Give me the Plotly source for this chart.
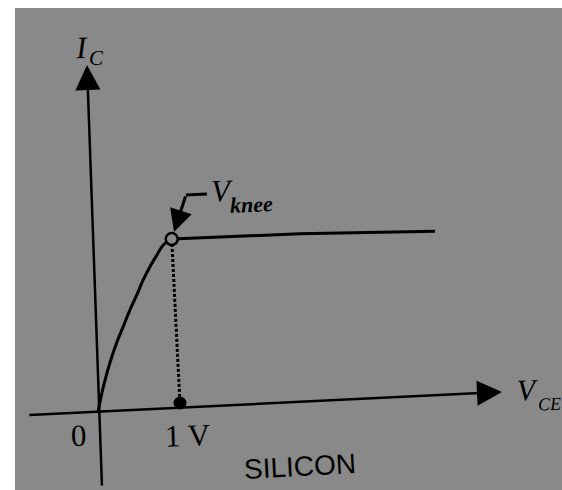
import plotly.graph_objects as go

# ---- data (V_CE in volts, I_C in mA) ----
curve_v = [0, 0.065, 0.146, 0.228, 0.309, 0.390, 0.472, 0.553, 0.634, 0.716, 0.796, 0.899]
curve_i = [0, 0.29, 0.57, 0.80, 0.99, 1.18, 1.35, 1.53, 1.68, 1.81, 1.93, 2.00]
sat_v = [0.899, 2.46, 4.11]
sat_i = [2.00, 2.06, 2.09]
knee_v = [0.899]
knee_i = [2.00]
drop_v = [0.899, 1.0]
drop_i = [2.00, 0.104]
one_volt_v = [1.0]
one_volt_i = [0.104]
xaxis_v = [-0.854, 4.927]   # tail, tip
xaxis_i = [-0.035, 0.231]
yaxis_v = [0.049, -0.134]   # tail, tip
yaxis_i = [-0.867, 4.012]
knee_arrow_v = [1.329, 1.073, 0.927]  # horizontal start, bend, tip
knee_arrow_i = [2.520, 2.509, 2.080]

GRAY = "#898989"
SERIF = "Liberation Serif, Times New Roman, serif"
SANS = "Liberation Sans, Arial, sans-serif"


def P(px, py):
    """pixel position -> data units (for label placement only)"""
    return (px - 98) / 82.0, (412 - py) / 86.5


fig = go.Figure()

fig.add_trace(go.Scatter(x=curve_v, y=curve_i, mode="lines",
                         line=dict(color="black", width=3, shape="spline"),
                         hoverinfo="skip", showlegend=False))
fig.add_trace(go.Scatter(x=sat_v, y=sat_i, mode="lines",
                         line=dict(color="black", width=3),
                         hoverinfo="skip", showlegend=False))
fig.add_trace(go.Scatter(x=drop_v, y=drop_i, mode="lines",
                         line=dict(color="black", width=3, dash="3px,2px"),
                         hoverinfo="skip", showlegend=False))
fig.add_trace(go.Scatter(x=knee_arrow_v[:2], y=knee_arrow_i[:2], mode="lines",
                         line=dict(color="black", width=3),
                         hoverinfo="skip", showlegend=False))
fig.add_trace(go.Scatter(x=knee_v, y=knee_i, mode="markers",
                         marker=dict(size=12, color=GRAY, line=dict(color="black", width=2.5)),
                         hoverinfo="skip", showlegend=False))
fig.add_trace(go.Scatter(x=one_volt_v, y=one_volt_i, mode="markers",
                         marker=dict(size=13, color="black"),
                         hoverinfo="skip", showlegend=False))

for vx, iy in ((xaxis_v, xaxis_i), (yaxis_v, yaxis_i)):
    fig.add_annotation(x=vx[1], y=iy[1], ax=vx[0], ay=iy[0],
                       xref="x", yref="y", axref="x", ayref="y",
                       showarrow=True, arrowhead=2, arrowsize=2, arrowwidth=2.5,
                       arrowcolor="black", text="")
fig.add_annotation(x=knee_arrow_v[2], y=knee_arrow_i[2], ax=knee_arrow_v[1], ay=knee_arrow_i[1],
                   xref="x", yref="y", axref="x", ayref="y",
                   showarrow=True, arrowhead=2, arrowsize=1.5, arrowwidth=3,
                   arrowcolor="black", text="")


def label(text, px, py, size, family=SERIF, xanchor="center", angle=-2):
    x, y = P(px, py)
    fig.add_annotation(x=x, y=y, xref="x", yref="y", text=text, showarrow=False,
                       xanchor=xanchor, yanchor="middle", textangle=angle,
                       font=dict(family=family, size=size, color="black"))


label("<i>I</i>", 82, 47, 31)
label("<i>C</i>", 97, 58, 21)
label("<i>V</i>", 222, 190, 31)
label("<i><b>knee</b></i>", 252, 204, 22)
label("<i>V</i>", 528, 390, 30)
label("<i>CE</i>", 536, 404, 18, xanchor="left")
label("0", 79, 436, 31)
label("1 V", 188, 436, 31)
label("SILICON", 300, 467, 28, family=SANS, angle=-3)

# white scan border on the left and top (paper coordinates, outside the plot area)
fig.add_shape(type="rect", xref="paper", yref="paper", x0=-0.2, x1=0, y0=-0.2, y1=1.2,
              fillcolor="white", line=dict(width=0), layer="below")
fig.add_shape(type="rect", xref="paper", yref="paper", x0=-0.2, x1=1.2, y0=1, y1=1.2,
              fillcolor="white", line=dict(width=0), layer="below")

fig.update_layout(
    width=562, height=490,
    margin=dict(l=15, r=0, t=8, b=0),
    paper_bgcolor=GRAY,
    plot_bgcolor=GRAY,
    xaxis=dict(range=[-1.012, 5.659], visible=False, fixedrange=True),
    yaxis=dict(range=[-0.902, 4.671], visible=False, fixedrange=True),
    showlegend=False,
)

fig.write_html(
    "out.html",
    config={"displayModeBar": False},
    post_script="document.body.style.margin='0';document.body.style.overflow='hidden';"
                "document.documentElement.style.background='%s';document.body.style.background='%s';"
                % (GRAY, GRAY),
)
